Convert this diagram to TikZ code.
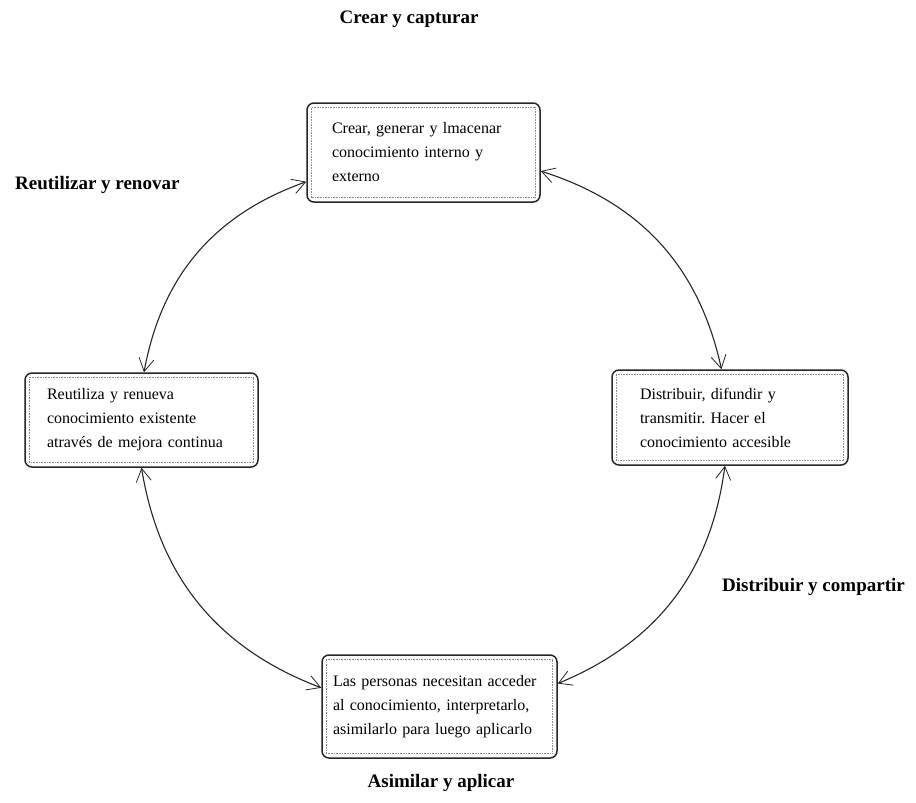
\documentclass[tikz,border=0pt]{standalone}
\usepackage{fontspec}
\setmainfont{Liberation Serif}
\usetikzlibrary{arrows.meta,calc}

\tikzset{
  cyclebox/.style={draw=black!85, line width=1.5pt, rounded corners=7pt,
    align=left, inner ysep=0pt,
    font=\fontsize{16}{24}\selectfont},
  innerframe/.style={draw=black!45, densely dotted, line width=0.6pt},
  phase/.style={font=\fontsize{19}{22}\selectfont\bfseries, inner sep=0pt},
  flow/.style={line width=1.1pt, black!85,
    {Straight Barb[length=13pt,width=15pt,line width=0.8pt]}-{Straight Barb[length=13pt,width=15pt,line width=0.8pt]}},
}

\begin{document}
\frenchspacing
\begin{tikzpicture}[x=1pt,y=-1pt]
  \useasboundingbox (0,0) rectangle (916,803);

  % the four stages of the knowledge cycle
  \node[cyclebox, minimum width=233pt, minimum height=99pt, inner xsep=25pt, text width=183pt]
    (crear) at (423.5,152.5) {Crear, generar y lmacenar\\ conocimiento interno y\\ externo};
  \node[cyclebox, minimum width=236pt, minimum height=95pt, inner xsep=28pt, text width=180pt]
    (distribuir) at (730,417.5) {Distribuir, difundir y\\ transmitir. Hacer el\\ conocimiento accesible};
  \node[cyclebox, minimum width=235pt, minimum height=103pt, inner xsep=11pt, text width=213pt]
    (asimilar) at (439.5,706.5) {Las personas necesitan acceder\\ al conocimiento, interpretarlo,\\ asimilarlo para luego aplicarlo};
  \node[cyclebox, minimum width=233pt, minimum height=94pt, inner xsep=22pt, text width=189pt]
    (reutilizar) at (141.5,420) {Reutiliza y renueva\\ conocimiento existente\\ através de mejora continua};

  % dotted inner frames
  \foreach \b in {crear,distribuir,asimilar,reutilizar}
    \draw[innerframe] ($(\b.south west)+(5,-5)$) rectangle ($(\b.north east)+(-5,5)$);

  % phase labels
  \node[phase] (lcrear) at (409,19) {Crear y capturar};
  \node[phase, anchor=west] (lreutilizar) at (15,185) {Reutilizar y renovar};
  \node[phase, anchor=west] (ldistribuir) at (722,587) {Distribuir y compartir};
  \node[phase] (lasimilar) at (441,783) {Asimilar y aplicar};

  % connecting arcs
  \draw[flow] (crear.351) to[bend left=30] (distribuir.100);
  \draw[flow] (distribuir.264) to[bend left=30] (asimilar.11);
  \draw[flow] (asimilar.171) to[bend left=30] (reutilizar.270);
  \draw[flow] (reutilizar.87) to[bend left=30] (crear.194);
\end{tikzpicture}
\end{document}
